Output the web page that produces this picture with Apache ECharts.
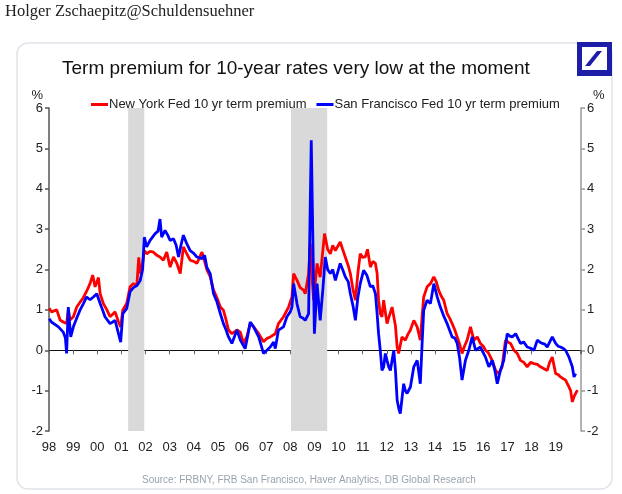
<!DOCTYPE html>
<html><head><meta charset="utf-8">
<script src="https://cdn.jsdelivr.net/npm/echarts@6/dist/echarts.min.js"></script>
<style>html,body{margin:0;padding:0;background:#fff}#c{width:622px;height:494px}</style>
</head><body><div id="c"></div>
<script>
const nyYears=[1998.01,1998.1,1998.18,1998.32,1998.46,1998.59,1998.73,1998.8,1998.87,1999.01,1999.15,1999.3,1999.42,1999.55,1999.7,1999.81,1999.91,2000.05,2000.12,2000.25,2000.4,2000.53,2000.65,2000.74,2000.88,2000.97,2001.06,2001.22,2001.36,2001.5,2001.64,2001.72,2001.78,2001.88,2001.95,2002.05,2002.19,2002.33,2002.47,2002.6,2002.74,2002.88,2003.02,2003.16,2003.3,2003.44,2003.57,2003.71,2003.85,2004.0,2004.13,2004.34,2004.45,2004.54,2004.68,2004.82,2004.96,2005.1,2005.23,2005.34,2005.44,2005.58,2005.79,2005.93,2006.06,2006.2,2006.34,2006.48,2006.69,2006.89,2007.03,2007.17,2007.38,2007.51,2007.72,2007.93,2008.07,2008.14,2008.28,2008.41,2008.55,2008.62,2008.76,2008.83,2008.9,2008.97,2009.11,2009.24,2009.42,2009.55,2009.66,2009.76,2009.87,2010.07,2010.17,2010.28,2010.4,2010.49,2010.6,2010.7,2010.8,2010.9,2011.0,2011.11,2011.2,2011.32,2011.42,2011.53,2011.6,2011.66,2011.73,2011.8,2011.87,2012.01,2012.08,2012.15,2012.22,2012.29,2012.36,2012.43,2012.49,2012.63,2012.77,2012.88,2012.98,2013.12,2013.26,2013.39,2013.46,2013.53,2013.67,2013.81,2013.95,2014.05,2014.15,2014.25,2014.36,2014.5,2014.6,2014.71,2014.82,2014.92,2015.02,2015.12,2015.22,2015.33,2015.47,2015.61,2015.75,2015.88,2016.0,2016.09,2016.2,2016.3,2016.4,2016.51,2016.64,2016.78,2016.92,2017.03,2017.13,2017.27,2017.41,2017.54,2017.68,2017.82,2017.96,2018.1,2018.24,2018.37,2018.5,2018.65,2018.75,2018.86,2019.0,2019.1,2019.2,2019.3,2019.41,2019.55,2019.62,2019.69,2019.76,2019.83,2019.9];
const nyVals=[1.04,0.95,0.95,1.0,0.75,0.7,0.66,1.0,0.75,0.83,1.07,1.2,1.3,1.45,1.65,1.86,1.57,1.8,1.4,1.16,1.0,0.83,0.9,0.95,0.7,0.58,1.0,1.16,1.57,1.65,1.6,2.3,1.9,2.15,2.47,2.39,2.45,2.43,2.35,2.31,2.23,2.43,2.06,2.31,2.15,1.9,2.56,2.39,2.23,2.2,2.15,2.43,2.2,2.0,1.82,1.49,1.3,1.07,0.99,0.75,0.5,0.41,0.5,0.45,0.17,0.33,0.66,0.58,0.41,0.21,0.29,0.33,0.41,0.66,0.83,1.07,1.32,1.9,1.73,1.55,1.49,1.4,1.9,2.64,1.8,1.24,2.15,1.81,2.89,2.5,2.39,2.6,2.47,2.68,2.5,2.31,2.1,1.9,1.5,1.24,1.9,2.39,2.3,2.31,2.5,2.06,2.2,2.15,1.9,1.24,0.91,0.83,1.24,0.66,0.8,0.83,1.07,1.07,0.6,0.08,-0.08,0.33,0.25,0.4,0.5,0.74,0.58,0.25,0.8,1.32,1.57,1.65,1.82,1.7,1.49,1.35,1.24,0.91,0.8,0.66,0.5,0.33,0.15,-0.08,0.1,0.25,0.58,0.25,0.33,0.17,0.1,0.0,-0.05,-0.17,-0.3,-0.5,-0.58,-0.41,0.25,0.2,0.17,0.0,-0.08,-0.25,-0.3,-0.41,-0.3,-0.33,-0.35,-0.41,-0.45,-0.5,-0.3,-0.17,-0.58,-0.6,-0.66,-0.7,-0.74,-0.91,-1.0,-1.28,-1.15,-1.07,-0.99];
const sfYears=[1998.01,1998.1,1998.18,1998.39,1998.59,1998.68,1998.73,1998.8,1998.9,1999.01,1999.15,1999.29,1999.42,1999.56,1999.7,1999.84,1999.98,2000.12,2000.22,2000.32,2000.53,2000.64,2000.74,2000.88,2000.97,2001.06,2001.22,2001.36,2001.5,2001.64,2001.78,2001.88,2001.95,2002.05,2002.19,2002.4,2002.52,2002.6,2002.67,2002.81,2002.92,2003.02,2003.16,2003.27,2003.37,2003.47,2003.57,2003.71,2003.85,2004.0,2004.13,2004.34,2004.45,2004.54,2004.68,2004.82,2004.96,2005.1,2005.23,2005.34,2005.44,2005.58,2005.79,2005.93,2006.13,2006.25,2006.34,2006.48,2006.69,2006.89,2007.03,2007.17,2007.31,2007.38,2007.51,2007.72,2007.86,2008.0,2008.07,2008.14,2008.28,2008.41,2008.52,2008.62,2008.76,2008.83,2008.87,2008.94,2009.0,2009.11,2009.24,2009.35,2009.45,2009.55,2009.66,2009.76,2009.87,2010.07,2010.17,2010.28,2010.4,2010.49,2010.6,2010.7,2010.8,2010.9,2011.04,2011.18,2011.32,2011.42,2011.53,2011.6,2011.66,2011.73,2011.8,2011.87,2011.94,2012.01,2012.08,2012.15,2012.22,2012.29,2012.36,2012.43,2012.5,2012.56,2012.63,2012.7,2012.77,2012.84,2012.98,2013.12,2013.26,2013.39,2013.46,2013.53,2013.67,2013.81,2013.95,2014.09,2014.22,2014.36,2014.5,2014.6,2014.71,2014.82,2014.92,2015.02,2015.12,2015.26,2015.4,2015.54,2015.68,2015.88,2016.09,2016.23,2016.37,2016.48,2016.58,2016.71,2016.85,2016.99,2017.1,2017.2,2017.34,2017.54,2017.68,2017.82,2017.96,2018.1,2018.24,2018.35,2018.44,2018.55,2018.65,2018.75,2018.86,2019.0,2019.1,2019.2,2019.3,2019.41,2019.55,2019.69,2019.76,2019.83];
const sfVals=[0.78,0.7,0.66,0.58,0.45,0.3,-0.08,1.07,0.33,0.58,0.8,1.0,1.15,1.32,1.25,1.32,1.4,1.16,1.0,0.83,0.66,0.7,0.74,0.41,0.2,0.91,1.03,1.45,1.55,1.6,1.73,2.0,2.8,2.56,2.72,2.89,2.95,3.25,2.8,2.97,2.85,2.72,2.76,2.6,2.31,2.6,2.85,2.64,2.47,2.4,2.31,2.27,2.35,2.06,1.9,1.4,1.2,0.91,0.66,0.5,0.33,0.17,0.5,0.25,0.04,0.4,0.7,0.58,0.33,-0.08,0.0,0.08,0.2,0.04,0.5,0.58,0.83,0.95,1.07,1.65,1.15,0.83,0.8,0.74,0.91,3.7,5.2,2.64,0.41,1.65,0.74,1.5,2.31,2.0,1.9,2.0,1.73,2.15,2.0,1.82,1.7,1.4,1.1,0.74,1.3,1.65,1.98,1.85,1.57,1.6,1.4,0.9,0.41,0.0,-0.5,-0.41,-0.08,-0.25,-0.41,-0.5,-0.25,0.0,-0.5,-1.24,-1.45,-1.57,-1.2,-0.83,-1.0,-1.07,-0.91,-0.41,-0.25,-0.83,0.1,0.99,1.24,1.16,1.65,1.32,1.07,0.85,0.66,0.5,0.33,0.3,0.17,-0.2,-0.74,-0.25,0.0,0.33,0.0,0.08,-0.17,-0.41,-0.25,-0.5,-0.83,-0.5,-0.25,0.41,0.35,0.33,0.41,0.17,0.2,0.08,0.05,0.0,0.25,0.2,0.17,0.15,0.08,0.2,0.33,0.17,0.1,0.08,0.05,0.0,-0.17,-0.41,-0.66,-0.58];
const recessions=[[2001.28,2001.95],[2008.03,2009.53]];
const yTicks={min:-2,max:6,interval:1};
const xRange={min:1998,max:2020.05,interval:1};
const nyName='New York Fed 10 yr term premium';
const sfName='San Francisco Fed 10 yr term premium';
const titleText='Term premium for 10-year rates very low at the moment';
const sourceText='Source: FRBNY, FRB San Francisco, Haver Analytics, DB Global Research';
const headerText='Holger Zschaepitz@Schuldensuehner';

const zip=(a,b)=>a.map((x,i)=>[x,b[i]]);
const chart=echarts.init(document.getElementById('c'),null,{renderer:'canvas'});
const font='"Liberation Sans", Arial, sans-serif';
const yAxisBase=(pos,lineColor,nameAlign,namePad)=>({
  type:'value',position:pos,min:yTicks.min,max:yTicks.max,interval:yTicks.interval,
  name:'%',nameLocation:'end',nameGap:0,
  nameTextStyle:{color:'#222',fontSize:13,fontFamily:font,align:nameAlign,padding:namePad},
  axisLine:{show:true,onZero:false,lineStyle:{color:lineColor,width:1.5}},
  axisTick:{show:true,length:4,lineStyle:{color:lineColor,width:1.5}},
  axisLabel:{color:'#222',fontSize:13,fontFamily:font,margin:6},
  splitLine:{show:false}
});
chart.setOption({
  backgroundColor:'#fff',
  animation:false,
  title:[
    {text:titleText,left:57,top:54,textStyle:{fontFamily:font,fontSize:19,fontWeight:'normal',color:'#111'}},
    {text:sourceText,left:137,top:470,textStyle:{fontFamily:font,fontSize:10,fontWeight:'normal',color:'#9aa3ad'}}
  ],
  graphic:[
    {type:'text',left:5,top:3,style:{text:headerText,fill:'#222',font:'16.5px "Liberation Serif", "Times New Roman", serif'}},
    {type:'rect',z:-10,shape:{x:17,y:43,width:595,height:446,r:11},style:{fill:'none',stroke:'#dfe4ea',lineWidth:1.5}},
    {type:'group',left:577,top:42,children:[
      {type:'rect',shape:{x:0,y:0,width:35,height:34},style:{fill:'#1d1da8'}},
      {type:'rect',shape:{x:5,y:5,width:25,height:23},style:{fill:'#fff'}},
      {type:'polygon',shape:{points:[[8,24],[13,24],[25,9],[20,9]]},style:{fill:'#1d1da8'}}
    ]}
  ],
  legend:{
    left:86,top:93,itemWidth:17,itemHeight:3,itemGap:10,icon:'rect',
    textStyle:{fontFamily:font,fontSize:13,color:'#222',padding:[0,0,0,-4]},
    data:[nyName,sfName]
  },
  grid:{left:49,right:41,top:108,bottom:63},
  xAxis:[
    {type:'value',min:xRange.min,max:xRange.max,interval:xRange.interval,
     axisLine:{show:true,onZero:true,lineStyle:{color:'#111',width:1.2}},
     axisTick:{show:true,length:4,inside:false,lineStyle:{color:'#666'}},
     axisLabel:{show:false},splitLine:{show:false}},
    {type:'value',position:'bottom',min:xRange.min,max:xRange.max,interval:xRange.interval,
     axisLine:{show:false,onZero:false},axisTick:{show:false},splitLine:{show:false},
     axisLabel:{color:'#222',fontSize:13,fontFamily:font,margin:10,
       formatter:v=>(v>2019.5?'':String(Math.round(v)%100).padStart(2,'0'))}}
  ],
  yAxis:[
    yAxisBase('left','#555','right',[0,6,0,0]),
    yAxisBase('right','#999','left',[0,0,0,12])
  ],
  series:[
    {name:nyName,type:'line',data:zip(nyYears,nyVals),showSymbol:false,
     lineStyle:{color:'#ff0000',width:2.8},itemStyle:{color:'#ff0000'},
     markArea:{silent:true,itemStyle:{color:'#d9d9d9'},
       data:recessions.map(r=>[{xAxis:r[0]},{xAxis:r[1]}])}},
    {name:sfName,type:'line',data:zip(sfYears,sfVals),showSymbol:false,
     lineStyle:{color:'#0000ff',width:2.8},itemStyle:{color:'#0000ff'}}
  ]
});
</script></body></html>
